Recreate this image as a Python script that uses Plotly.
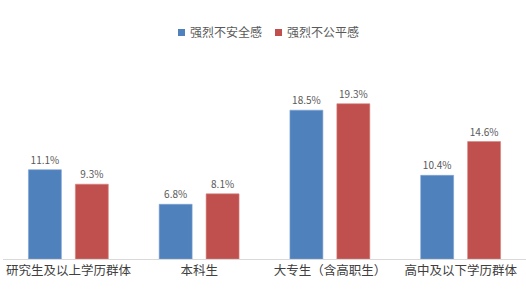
import plotly.graph_objects as go

categories = ["研究生及以上学历群体", "本科生", "大专生（含高职生）", "高中及以下学历群体"]
insecure = [11.1, 6.8, 18.5, 10.4]
unfair = [9.3, 8.1, 19.3, 14.6]
series_names = ["强烈不安全感", "强烈不公平感"]
colors = ["#4F81BD", "#C0504D"]
edge_colors = ["#7FA3D3", "#D98380"]

font = "Noto Sans CJK SC"
grey = "#595959"

fig = go.Figure()
for name, vals, c, ec in zip(series_names, [insecure, unfair], colors, edge_colors):
    fig.add_trace(go.Bar(
        x=categories, y=vals, name=name,
        marker=dict(color=c, line=dict(color=ec, width=0.6)),
        text=[f"{v:.1f}%" for v in vals], textposition="outside",
        textfont=dict(color=grey, size=10, family=font), cliponaxis=False,
        showlegend=False,
    ))

# manual legend (layout only)
W, H, L, B = 526, 297, 3, 38
T = 82
pw, ph = W - L, H - T - B
def px(x):
    return (x - L) / pw
def py(y):
    return (H - B - y) / ph

legend_items = [(178, series_names[0], colors[0]), (275, series_names[1], colors[1])]
shapes = []
annotations = []
for x0, name, c in legend_items:
    shapes.append(dict(type="rect", xref="paper", yref="paper",
                       x0=px(x0), x1=px(x0 + 7), y0=py(36), y1=py(29),
                       fillcolor=c, line=dict(width=0)))
    annotations.append(dict(xref="paper", yref="paper", x=px(x0 + 10), y=py(32),
                            xanchor="left", yanchor="middle", showarrow=False,
                            text=name, font=dict(size=12, color=grey, family=font)))

fig.update_layout(
    width=W, height=H,
    margin=dict(l=L, r=0, t=T, b=B),
    paper_bgcolor="white", plot_bgcolor="white",
    barmode="group", bargap=0.282, bargroupgap=0.298,
    font=dict(family=font, color=grey, size=11),
    shapes=shapes, annotations=annotations,
)
fig.update_xaxes(showline=True, linecolor="#D9D9D9", linewidth=1, ticks="",
                 tickfont=dict(size=12.5, color="#404040", family=font), showgrid=False)
fig.update_yaxes(range=[0, 22], visible=False, showgrid=False, zeroline=False)

fig.write_html("out.html")
